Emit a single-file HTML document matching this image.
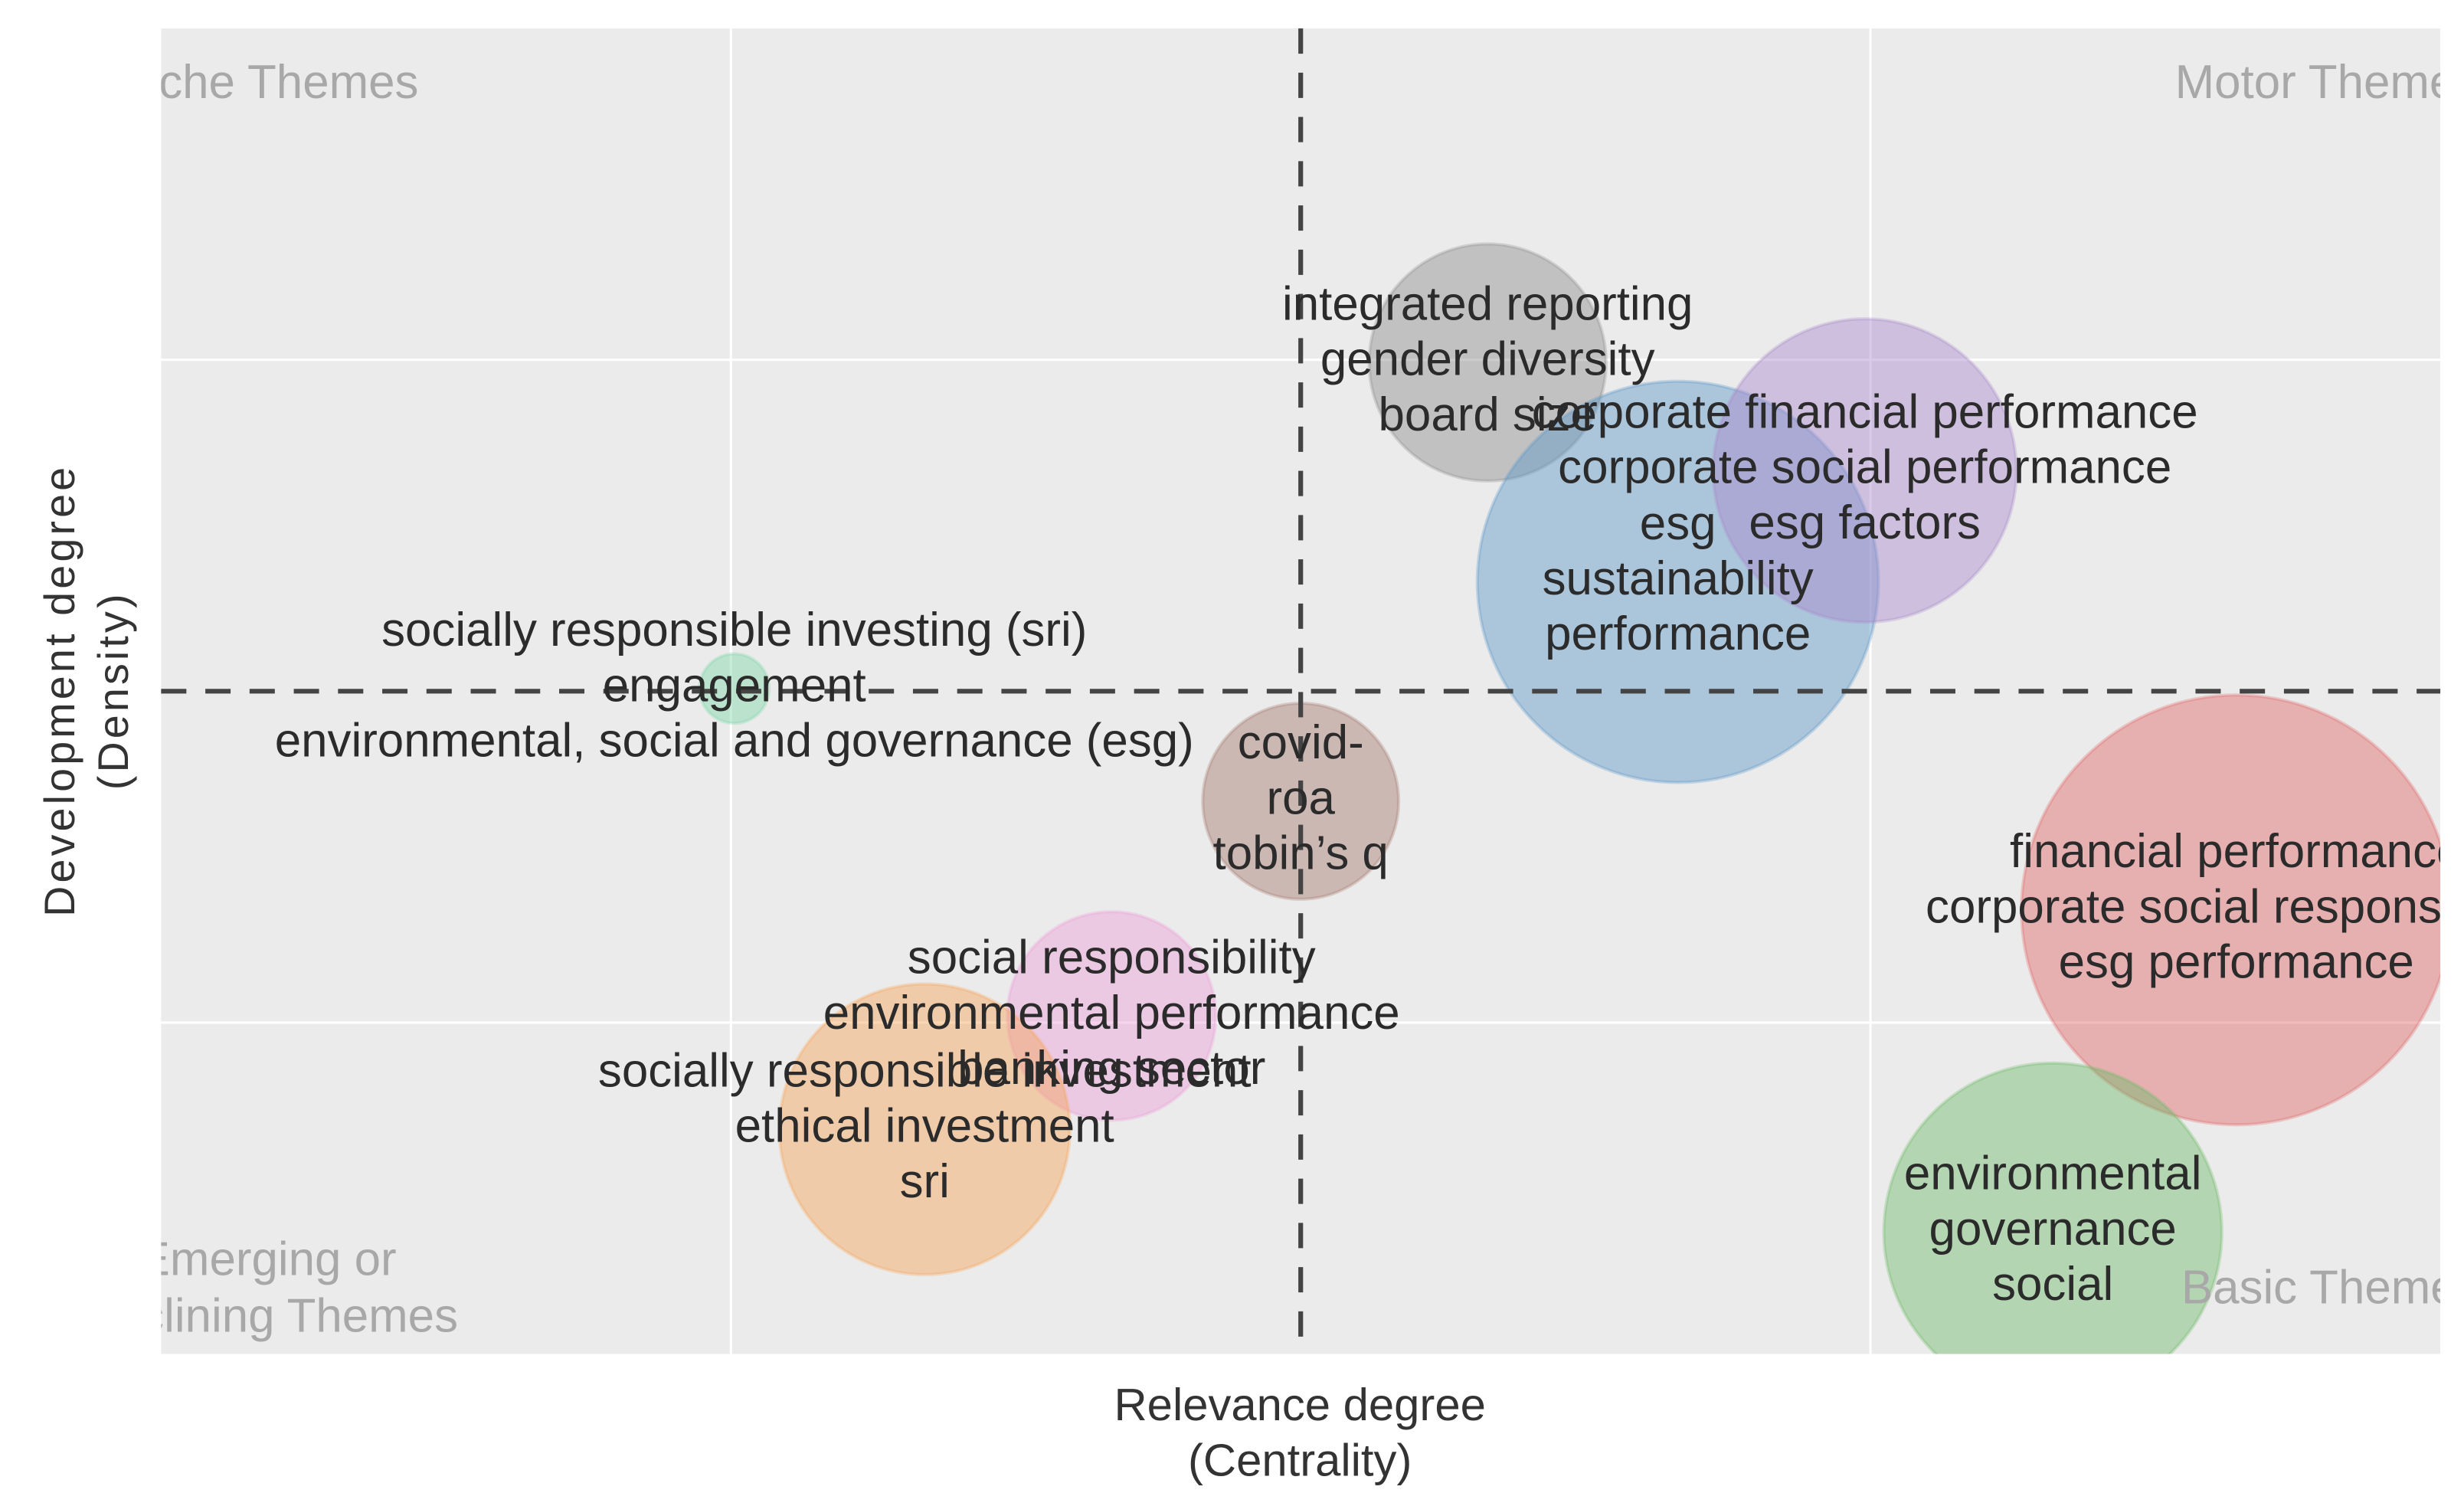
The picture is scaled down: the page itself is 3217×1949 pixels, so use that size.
<!DOCTYPE html>
<html><head><meta charset="utf-8"><style>
html,body{margin:0;padding:0;background:#fff;}
svg{display:block;}
text{font-family:"Liberation Sans","DejaVu Sans",sans-serif;}
</style></head>
<body>
<svg id="chart" width="3217" height="1949" viewBox="0 0 1560 945" preserveAspectRatio="none" xmlns="http://www.w3.org/2000/svg">
<defs><clipPath id="plotclip"><rect x="102" y="18" width="1443" height="839"/></clipPath></defs>
<rect x="102" y="18" width="1443" height="839" fill="#ebebeb"/>
<g id="grid"></g>
<g id="bubbles" clip-path="url(#plotclip)"></g>
<g id="refs"></g>
<g id="labels" clip-path="url(#plotclip)"></g>
<g id="corners" clip-path="url(#plotclip)" fill="#a8a8a8" font-size="30">
<text x="265" y="62" text-anchor="end">Niche Themes</text>
<text x="1377" y="62">Motor Themes</text>
<text x="251" y="807" text-anchor="end">Emerging or</text>
<text x="290" y="843" text-anchor="end">Declining Themes</text>
<text x="1381" y="825">Basic Themes</text>
</g>
<g fill="#333" font-size="29" text-anchor="middle">
<text x="823" y="899">Relevance degree</text>
<text x="823" y="934">(Centrality)</text>
</g>
<g fill="#333" font-size="27" text-anchor="middle">
<text transform="translate(47,437) rotate(-90)" letter-spacing="2">Development degree</text>
<text transform="translate(81,437) rotate(-90)" letter-spacing="2">(Density)</text>
</g>
</svg>
<script>
const clusterNames = ["integrated reporting","sustainability performance","esg factors","engagement","roa","environmental performance","ethical investment","financial performance","governance"];
const centrality = [0.164, 0.331, 0.495, -0.497, 0.0, -0.166, -0.33, 0.821, 0.660];
const density = [0.496, 0.165, 0.333, 0.004, -0.166, -0.49, -0.661, -0.330, -0.816];
const clusterSize = [75, 127, 96, 22, 62, 66, 92, 136, 107];
const clusterColors = ["#8f8f8f","#5d97c8","#a98acb","#7fd6a8","#a57b6e","#ea9fd6","#f5a55a","#e06868","#6fbb6a"];
const clusterLabels = [
 ["integrated reporting","gender diversity","board size"],
 ["esg","sustainability","performance"],
 ["corporate financial performance","corporate social performance","esg factors"],
 ["socially responsible investing (sri)","engagement","environmental, social and governance (esg)"],
 ["covid-","roa","tobin’s q"],
 ["social responsibility","environmental performance","banking sector"],
 ["socially responsible investment","ethical investment","sri"],
 ["financial performance","corporate social responsibility","esg performance"],
 ["environmental","governance","social"]
];
const gridTicks = [-0.5, 0.5];
const X0=102,X1=1545,Y0=18,Y1=857;
function xs(v){return (X0+X1)/2 + v*(X1-X0)/2;}
function ys(v){return (Y0+Y1)/2 - v*(Y1-Y0)/2;}
const NS="http://www.w3.org/2000/svg";
function mk(tag,attrs,parent){const e=document.createElementNS(NS,tag);for(const k in attrs)e.setAttribute(k,attrs[k]);parent.appendChild(e);return e;}
const grid=document.getElementById('grid');
gridTicks.forEach(t=>{
 const l1=mk('line',{x1:xs(t),x2:xs(t),y1:Y0,y2:Y1,stroke:'#fff','stroke-width':1.5},grid);
 
 
 const l2=mk('line',{x1:X0,x2:X1,y1:ys(t),y2:ys(t),stroke:'#fff','stroke-width':1.5},grid);
 
 
});
const bub=document.getElementById('bubbles');
centrality.forEach((c,i)=>{
 const e=mk('circle',{cx:xs(c),cy:ys(density[i]),r:clusterSize[i],fill:clusterColors[i],'fill-opacity':0.45,stroke:clusterColors[i],'stroke-opacity':0.3,'stroke-width':2},bub);
 
 
});
const refs=document.getElementById('refs');
const vl=mk('line',{x1:xs(0),x2:xs(0),y1:Y0,y2:Y1,stroke:'#444','stroke-width':3,'stroke-dasharray':'16,12'},refs);


const hl=mk('line',{x1:X0,x2:X1,y1:ys(0),y2:ys(0),stroke:'#444','stroke-width':3,'stroke-dasharray':'16,12'},refs);


const lab=document.getElementById('labels');
centrality.forEach((c,i)=>{
 const cx=xs(c),cy=ys(density[i]);
 clusterLabels[i].forEach((s,j)=>{
  const t=mk('text',{x:cx,y:cy+(j-1)*35+8,'text-anchor':'middle','font-size':30,fill:'#2b2b2b'},lab);
  t.textContent=s;
  
  
 });
});
</script>
</body></html>
